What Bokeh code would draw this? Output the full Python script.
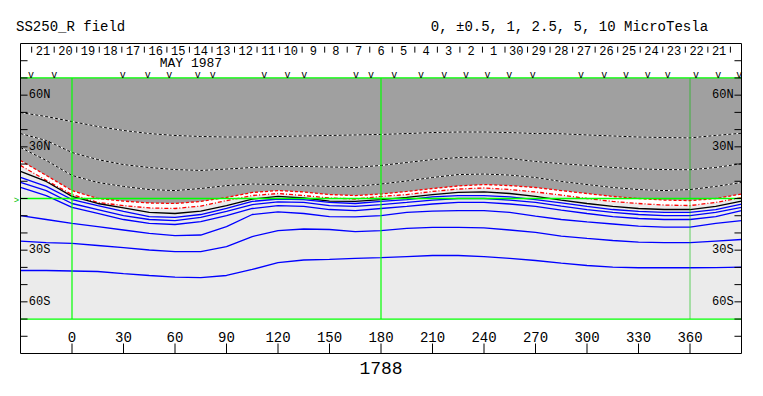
from bokeh.plotting import figure
from bokeh.models import Range1d
from bokeh.core.properties import value
from bokeh.embed import file_html
from bokeh.resources import INLINE

# ---------------- data ----------------
lon = list(range(-30, 391, 15))

# positive contours (dotted black/white), latitude at each lon
pos_a = [49.9, 47.6, 44.7, 41.8, 39.5, 37.7, 36.6, 36.0, 35.7, 35.7, 36.0, 36.3, 36.6, 36.9, 37.2,
         37.7, 38.3, 38.6, 38.6, 38.3, 37.7, 37.6, 36.9, 36.3, 35.7, 35.4, 35.2, 36.6, 37.9]
pos_b = [37.7, 33.7, 26.7, 22.6, 19.7, 18.0, 16.8, 16.3, 17.1, 18.0, 18.6, 18.6, 18.3, 18.0, 19.2,
         20.9, 22.6, 23.8, 24.1, 23.2, 21.5, 20.2, 19.2, 18.0, 17.2, 16.8, 16.7, 18.0, 20.2]
pos_c = [29.6, 22.1, 13.4, 9.3, 7.0, 5.2, 4.6, 5.8, 7.5, 8.4, 8.1, 7.5, 7.0, 7.0, 8.4,
         10.2, 12.2, 13.9, 14.2, 13.6, 12.2, 9.9, 8.1, 6.4, 5.2, 4.6, 5.2, 7.0, 9.3]
# +/-0.5 contours (red)
red_up = [22.1, 13.4, 4.6, 0.0, -1.5, -2.6, -2.9, -1.7, 0.6, 3.5, 4.6, 3.8, 2.3, 1.7, 2.6,
          4.1, 5.8, 7.3, 8.1, 7.5, 6.4, 4.6, 2.9, 1.2, 0.0, -0.9, -1.2, 0.0, 2.6]
red_lo = [19.2, 10.5, 2.3, -2.3, -4.1, -5.5, -5.8, -4.4, -1.2, 1.7, 2.9, 1.7, 0.3, -0.3, 1.2,
          2.3, 4.1, 5.5, 6.1, 5.2, 3.8, 2.0, 0.0, -1.7, -2.9, -3.8, -4.1, -2.3, 0.6]
# zero contour (black)
zero_c = [15.7, 9.9, 1.2, -2.9, -5.5, -8.1, -8.7, -7.3, -4.1, -0.3, 1.2, 0.3, -1.5, -1.7, -0.6,
          0.6, 2.3, 3.5, 3.8, 2.9, 1.2, -0.9, -2.9, -4.6, -5.8, -6.4, -6.4, -4.6, -1.5]
# negative contours (blue)
neg_a = [12.2, 7.0, -0.6, -4.1, -7.5, -10.5, -11.0, -9.3, -5.8, -1.7, -0.3, -0.6, -2.3, -2.9, -1.7,
         -0.6, 0.9, 1.7, 1.7, 0.9, -0.6, -2.6, -4.6, -6.4, -7.5, -8.1, -8.1, -6.4, -3.2]
neg_b = [9.3, 4.6, -2.9, -6.4, -9.9, -12.2, -12.8, -11.0, -7.5, -3.5, -2.0, -2.3, -4.1, -4.6, -3.5,
         -2.3, -0.9, 0.0, 0.0, -0.9, -2.3, -4.4, -6.4, -8.1, -9.3, -9.9, -9.9, -8.1, -5.2]
neg_c = [6.4, 1.7, -5.2, -8.7, -12.2, -14.5, -15.1, -13.4, -9.9, -5.8, -4.1, -4.6, -6.4, -7.0, -5.8,
         -4.6, -3.2, -2.3, -2.3, -3.2, -4.6, -6.7, -8.7, -10.5, -11.6, -12.2, -12.2, -10.5, -7.0]
neg_d = [-9.9, -12.2, -14.5, -16.3, -18.3, -20.3, -21.5, -21.2, -16.3, -9.3, -7.8, -8.7, -10.5, -10.7, -9.9,
         -8.1, -7.3, -7.0, -7.0, -8.1, -10.2, -12.2, -13.6, -14.8, -16.0, -16.6, -16.6, -14.5, -12.8]
neg_e = [-24.7, -25.6, -26.1, -27.3, -28.5, -29.9, -30.8, -30.8, -27.9, -22.1, -18.6, -17.7, -18.0, -19.2, -18.6,
         -17.4, -16.8, -16.8, -17.1, -18.3, -19.7, -21.9, -23.2, -24.4, -25.3, -25.6, -25.6, -24.7, -23.8]
neg_f = [-41.8, -41.8, -42.1, -42.4, -43.6, -44.7, -45.6, -45.9, -44.7, -41.2, -37.2, -35.7, -35.4, -34.8, -34.3,
         -33.7, -33.1, -33.1, -33.7, -34.8, -36.0, -37.5, -38.9, -39.8, -40.2, -40.2, -40.2, -40.1, -39.9]

x_ticks = [0, 30, 60, 90, 120, 150, 180, 210, 240, 270, 300, 330, 360]
y_minor = [-80, -70, -60, -50, -40, -30, -20, -10, 0, 10, 20, 30, 40, 50, 60, 70, 80]
y_lab_vals = [60, 30, -30, -60]
y_lab_text = ["60N", "30N", "30S", "60S"]
day_labels = ["21", "20", "19", "18", "17", "16", "15", "14", "13", "12", "11", "10", "9", "8", "7",
              "6", "5", "4", "3", "2", "1", "30", "29", "28", "27", "26", "25", "24", "23", "22", "21"]
day_start_lon = -23.5
day_step = 13.13
marker_lons = [-23.9, -10.3, 29.5, 44.1, 56.7, 73.2, 82.0, 112.0, 125.6, 135.3, 165.4, 174.2,
               187.7, 203.3, 216.9, 229.5, 242.1, 254.7, 268.4, 296.5, 310.1, 322.7, 335.4,
               347.0, 363.5, 376.5, 388.7]
green_main_lons = [0, 180]
green_faint_lons = [360]
green_lats = [70, 0, -70]

title_left = "SS250_R field"
title_right = "0, \u00b10.5, 1, 2.5, 5, 10 MicroTesla"
x_caption = "1788"
month_label = "MAY 1987"

FONT = value("Liberation Mono")
DARK = "#A0A0A0"
LIGHT = "#EBEBEB"

# axes box: lon -30..390, lat -90..90; frame covers whole canvas so all texts are glyphs
W, H = 760, 392
SX = 721 / 420.0
SY = 310 / 180.0
x0 = -30 - 20 / SX
x1 = x0 + W / SX
y1 = 90 + 43 / SY
y0 = y1 - H / SY

p = figure(width=W, height=H, x_range=Range1d(x0, x1), y_range=Range1d(y0, y1),
           output_backend="svg", toolbar_location=None,
           x_axis_location=None, y_axis_location=None,
           min_border=0, min_border_left=0, min_border_right=0,
           min_border_top=0, min_border_bottom=0)
p.grid.visible = False
p.outline_line_color = None
p.background_fill_color = "white"
p.border_fill_color = "white"

# fills
p.quad(left=-30, right=390, bottom=-70, top=70, fill_color=LIGHT, line_color=None)
p.varea(x=lon, y1=red_lo, y2=red_up, fill_color="white")
p.varea(x=lon, y1=red_up, y2=[70] * len(lon), fill_color=DARK)

# contours
for ys in (pos_a, pos_b, pos_c):
    p.line(lon, ys, line_color="white", line_width=1)
    p.line(lon, ys, line_color="black", line_width=1, line_dash="3 2")
p.line(lon, red_up, line_color="red", line_width=1.3, line_dash="3 2")
p.line(lon, red_lo, line_color="red", line_width=1.3, line_dash="4 2 1 2")
p.line(lon, zero_c, line_color="black", line_width=1.3)
for ys in (neg_a, neg_b, neg_c, neg_d, neg_e, neg_f):
    p.line(lon, ys, line_color="#0000FF", line_width=1.3)

# green reference lines
p.segment(x0=green_main_lons, y0=[-70] * 2, x1=green_main_lons, y1=[70] * 2,
          line_color="#00FF00", line_width=1.2)
p.segment(x0=green_faint_lons, y0=[-70], x1=green_faint_lons, y1=[70],
          line_color="#00C000", line_width=1, line_alpha=0.6)
p.segment(x0=[-30] * 3, y0=green_lats, x1=[390] * 3, y1=green_lats,
          line_color="#00FF00", line_width=1.3)

# axes box
p.quad(left=-30, right=390, bottom=-90, top=90, fill_color=None, line_color="black", line_width=1)

# frame ticks (left/right)
tl = 4.1
p.segment(x0=[-30] * len(y_minor), y0=y_minor, x1=[-30 + tl] * len(y_minor), y1=y_minor,
          line_color="black", line_width=1)
p.segment(x0=[390] * len(y_minor), y0=y_minor, x1=[390 - tl] * len(y_minor), y1=y_minor,
          line_color="black", line_width=1)

# bottom longitude ticks and labels
p.segment(x0=x_ticks, y0=[-90] * len(x_ticks), x1=x_ticks, y1=[-84.2] * len(x_ticks),
          line_color="black", line_width=1)
p.text(x=x_ticks, y=[-80.7] * len(x_ticks), text=[str(t) for t in x_ticks],
       text_font=FONT, text_font_size="14px", text_align="center",
       text_baseline="middle", text_color="black")

# latitude labels
n_lab = len(y_lab_vals)
p.text(x=[-25.2] * n_lab, y=y_lab_vals, text=y_lab_text, text_font=FONT, text_font_size="12px",
       text_align="left", text_baseline="middle", text_color="black")
p.text(x=[385.4] * n_lab, y=y_lab_vals, text=y_lab_text, text_font=FONT, text_font_size="12px",
       text_align="right", text_baseline="middle", text_color="black")

# top date axis
n = len(day_labels)
sep = [day_start_lon + day_step * k for k in range(n + 1)]
p.segment(x0=sep, y0=[88.2] * len(sep), x1=sep, y1=[84.7] * len(sep),
          line_color="black", line_width=1)
cen = [day_start_lon + day_step * (k + 0.5) for k in range(n)]
p.text(x=cen, y=[85.9] * n, text=day_labels, text_font=FONT, text_font_size="12px",
       text_align="center", text_baseline="middle", text_color="black")
p.text(x=[69.3], y=[78.6], text=[month_label], text_font=FONT, text_font_size="13px",
       text_align="center", text_baseline="middle", text_color="black")
p.text(x=marker_lons, y=[71.6] * len(marker_lons), text=["v"] * len(marker_lons),
       text_font=FONT, text_font_size="10px", text_align="center",
       text_baseline="middle", text_color="black")

# titles outside the axes box
p.text(x=[-32.6], y=[99.3], text=[title_left], text_font=FONT, text_font_size="14px",
       text_align="left", text_baseline="middle", text_color="black")
p.text(x=[209.0], y=[99.3], text=[title_right], text_font=FONT, text_font_size="14px",
       text_align="left", text_baseline="middle", text_color="black")
p.text(x=[180], y=[-98.7], text=[x_caption], text_font=FONT, text_font_size="18px",
       text_align="center", text_baseline="middle", text_color="black")
p.text(x=[-32.3], y=[-1.2], text=[">"], text_font=FONT, text_font_size="9px",
       text_color="#00C000", text_align="center", text_baseline="middle")

open("out.html", "w").write(file_html(p, INLINE))
